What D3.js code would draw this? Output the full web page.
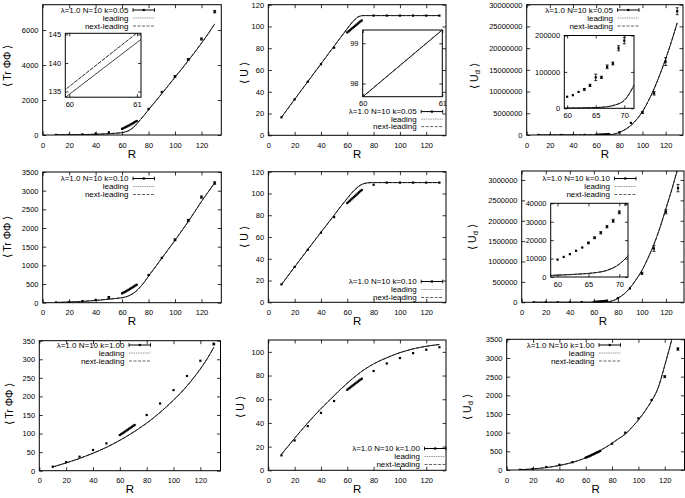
<!DOCTYPE html>
<html><head><meta charset="utf-8">
<script src="https://cdn.jsdelivr.net/npm/d3@7"></script>
<style>body{margin:0;background:#fff}svg{display:block}</style>
</head><body><svg id="c" width="685" height="498"></svg>
<script>
// ---------- data ----------
const R_main = [10,20,30,40,50,80,90,100,110,120,130];
const R_dense = [60,61,62,63,64,65,66,67,68,69,70,71];
const R_curve = [10,20,30,40,50,55,60,62,64,66,68,70,72,74,76,78,80,85,90,95,100,105,110,115,120,125,130];
const xTicks = [0,20,40,60,80,100,120];
const kValues = ["0.05","0.10","1.00"];

// k = 0.05
const tr005 = [5,12,35,80,150,1490,2460,3350,4320,5490,7050];
const tr005Err = [3,4,8,30,30,40,40,50,50,60,70];
const tr005Dense = [350,388,425,462,500,540,580,622,665,710,755,800];
const tr005DenseErr = [10,10,10,10,12,12,12,14,14,15,15,16];
const tr005Lead = [3,10,22,42,75,100,135,165,210,290,400,540,710,890,1070,1255,1440,1900,2360,2830,3300,3770,4250,4740,5250,5780,6350];
const tr005Next = [3,10,22,43,76,101,136,166,211,291,401,541,711,891,1071,1256,1441,1901,2361,2831,3301,3771,4251,4741,5251,5781,6351];
const u005 = [16.5,33,49.2,65.3,80.5,110,110,110,110,110,110];
const u005Err = [0.2,0.2,0.2,0.3,0.3,0.3,0.2,0.2,0.2,0.2,0.2];
const u005Dense = [94.5,95.5,96.5,97.5,98.6,99.6,100.6,101.6,102.6,103.6,104.6,105.5];
const u005DenseErr = [0.3,0.3,0.3,0.3,0.3,0.3,0.3,0.3,0.3,0.3,0.3,0.3];
const u005Lead = [16.5,33,49.3,65.6,81.9,90,98,101.2,104.2,106.7,108.6,109.6,110,110,110,110,110,110,110,110,110,110,110,110,110,110,110];
const u005Next = [16.5,33,49.3,65.6,81.9,90,98,101.2,104.2,106.7,108.6,109.6,110,110,110,110,110,110,110,110,110,110,110,110,110,110,110];
const ud005 = [2,30,300,2500,12000,600000,2800000,5200000,9600000,16900000,28500000];
const ud005Err = [0,0,0,0,0,80000,120000,250000,400000,900000,800000];
const ud005Dense = [31800,36000,45000,52000,63000,85000,85000,114000,123000,165000,186000,225000];
const ud005DenseErr = [2000,2000,2000,2500,3000,9000,3000,5000,4000,7000,9000,10000];
const ud005Lead = [0,0,0,0,0,200,500,900,1600,2800,7500,22000,72000,140000,250000,400000,600000,1250000,2200000,3600000,5400000,7800000,10600000,13900000,17500000,21500000,25800000];
const ud005Next = [0,0,0,0,0,200,500,900,1600,2800,7500,22000,72000,140000,250000,400000,600000,1250000,2200000,3600000,5400000,7800000,10600000,13900000,17500000,21500000,25800000];

// k = 0.10
const tr010 = [8,18,42,75,140,743,1200,1683,2202,2829,3205];
const tr010Err = [3,5,8,20,25,20,20,25,30,30,35];
const tr010Dense = [250,268,287,306,326,347,369,391,413,435,458,480];
const tr010DenseErr = [8,8,8,8,8,8,8,8,8,8,8,8];
const tr010Lead = [7,18,35,60,95,112,134,148,168,200,240,290,355,430,515,610,710,950,1190,1430,1670,1920,2170,2440,2710,2960,3210];
const tr010Next = [7,18,35,60,95,113,135,149,169,201,241,291,356,431,516,611,711,951,1191,1431,1671,1921,2171,2441,2711,2961,3211];
const u010 = [16.5,32.5,48.3,64,78.3,108,110,110,110,110,110];
const u010Err = [0.2,0.2,0.2,0.3,0.3,0.3,0.2,0.2,0.2,0.2,0.2];
const u010Dense = [91.2,92.3,93.4,94.5,95.6,96.7,97.8,98.9,100,101.1,102.2,103.2];
const u010DenseErr = [0.3,0.3,0.3,0.3,0.3,0.3,0.3,0.3,0.3,0.3,0.3,0.3];
const u010Lead = [16.3,32.5,48.5,64.3,80,88,95.5,98.5,101.3,103.8,105.9,107.6,108.8,109.5,109.8,110,110,110,110,110,110,110,110,110,110,110,110];
const u010Next = [16.3,32.5,48.5,64.3,80,88,95.5,98.5,101.3,103.8,105.9,107.6,108.8,109.5,109.8,110,110,110,110,110,110,110,110,110,110,110,110];
const ud010 = [1,15,150,1200,6000,100000,340000,710000,1320000,2220000,2800000];
const ud010Err = [0,0,0,0,0,8000,15000,25000,70000,50000,90000];
const ud010Dense = [9450,10900,12400,14200,16000,18500,21300,24000,27300,30500,35100,40000];
const ud010DenseErr = [300,300,300,400,400,500,500,600,600,800,800,1000];
const ud010Lead = [0,0,0,0,150,400,1000,1300,1700,2300,3600,7000,14000,25000,42000,66000,100000,200000,350000,550000,780000,1080000,1420000,1830000,2300000,2780000,3300000];
const ud010Next = [0,0,0,0,150,400,1000,1300,1700,2300,3600,7000,14000,25000,42000,66000,100000,200000,350000,550000,780000,1080000,1420000,1830000,2300000,2780000,3300000];

// k = 1.00
const tr100 = [10.8,23,37.7,55.7,73.6,150,181,217,255,296,341];
const tr100Err = [0.5,0.5,0.8,1,1,1.5,1.5,2,2,2,2.5];
const tr100Dense = [96,98.4,100.8,103.2,105.7,108.2,110.7,113.2,115.7,118.2,120.6,123];
const tr100DenseErr = [1,1,1,1,1,1,1,1,1,1,1,1];
const tr100Lead = [10,21,33,47,63,72,82,86,90,94.5,99,103.5,108,113,118,123,128,142,157,173,190,208,228,250,274,301,332];
const tr100Next = [10,21,33,47,63,72,82,86,90,94.5,99,103.5,108,113,118,123,128,142,157,173,190,208,228,250,274,301,332];
const u100 = [12.6,25.2,37.3,48.5,58.5,83.8,90.2,94.8,98.9,101.8,103.9];
const u100Err = [0.2,0.2,0.3,0.3,0.3,0.3,0.3,0.3,0.3,0.3,0.3];
const u100Dense = [68,68.9,69.7,70.6,71.5,72.3,73.2,74,74.9,75.7,76.5,77.3];
const u100DenseErr = [0.3,0.3,0.3,0.3,0.3,0.3,0.3,0.3,0.3,0.3,0.3,0.3];
const u100Lead = [13.5,27,40,52,63,68.5,73.5,75.5,77.4,79.2,81,82.7,84.3,85.8,87.2,88.6,89.8,92.6,95,97.3,99.3,101,102.5,103.7,104.7,105.5,106.2];
const u100Next = [13.5,27,40,52,63,68.5,73.5,75.5,77.4,79.2,81,82.7,84.3,85.8,87.2,88.6,89.8,92.6,95,97.3,99.3,101,102.5,103.7,104.7,105.5,106.2];
const ud100 = [5,30,80,140,210,705,1000,1384,1875,2500,3240];
const ud100Err = [1,2,3,5,6,10,12,15,20,25,30];
const ud100Dense = [330,345,360,375,392,408,425,442,459,476,493,510];
const ud100DenseErr = [5,5,5,5,5,5,5,5,5,5,5,5];
const ud100Lead = [5,30,65,122,205,260,330,365,400,435,470,505,545,585,625,670,715,840,960,1140,1340,1580,1850,2200,2800,3450,4200];
const ud100Next = [5,30,65,122,205,260,330,365,400,435,470,505,545,585,625,670,715,840,960,1140,1340,1580,1850,2200,2800,3450,4200];

// inset lines (k = 0.05, Tr and U)
const insetR = [59.9, 61.1];
const insTrLead = [133.6, 144.5];
const insTrNext = [134.95, 146.2];
const insULead = [97.5, 99.5];
const insUNext = [97.5, 99.5];

// tick labels
const ytTr005 = [0,2000,4000,6000];
const ytU = [0,20,40,60,80,100,120];
const ytUd005 = [0,5000000,10000000,15000000,20000000,25000000,30000000];
const ytTr010 = [0,500,1000,1500,2000,2500,3000,3500];
const ytUd010 = [0,500000,1000000,1500000,2000000,2500000,3000000];
const ytTr100 = [0,50,100,150,200,250,300,350];
const ytU100 = [0,20,40,60,80,100];
const ytUd100 = [0,500,1000,1500,2000,2500,3000,3500];
const insTrXt = [60,61], insTrYt = [135,140,145];
const insUXt = [60,61], insUYt = [98,99];
const insUdXt = [60,65,70], insUd005Yt = [0,100000,200000];
const insUd010Yt = [0,10000,20000,30000,40000];

// ---------- layout ----------
const FONT = '"Liberation Sans", Arial, Helvetica, sans-serif';
const panels = [
 {b:{l:42.7,r:221.3,t:4.7,b:135}, yMax:7450, yt:ytTr005, lab:'tr', k:0, d:tr005, e:tr005Err, dd:tr005Dense, de:tr005DenseErr, lead:tr005Lead, next:tr005Next, ylx:7, yly:66, lg:{x:128.5,y:10},
  inset:{b:{l:65.3,r:141,t:33.3,b:97.2}, xd:[59.94,61.06], yd:[134,145.2], xt:insTrXt, yt:insTrYt, lines:[insetR, insTrLead, insTrNext]}},
 {b:{l:268.3,r:446,t:4.7,b:135.3}, yMax:120, yt:ytU, lab:'u', k:0, d:u005, e:u005Err, dd:u005Dense, de:u005DenseErr, lead:u005Lead, next:u005Next, ylx:244, yly:73, lg:{x:416.7,y:111.6,dy:7.5},
  inset:{b:{l:362.7,r:442.3,t:30,b:96.7}, xd:[60,61], yd:[97.67,99.33], xt:insUXt, yt:insUYt, lines:[insetR, insULead, insUNext], xpad:3.6}},
 {b:{l:526.7,r:683,t:4.7,b:135}, yMax:30000000, yt:ytUd005, lab:'ud', k:0, d:ud005, e:ud005Err, dd:ud005Dense, de:ud005DenseErr, lead:ud005Lead, next:ud005Next, ylx:474, yly:76, lg:{x:613,y:10},
  inset:{b:{l:564.3,r:634,t:35.5,b:108.3}, xd:[59.5,71.7], yd:[0,200000], xt:insUdXt, yt:insUd005Yt, pts:true}},
 {b:{l:42.7,r:221.3,t:172,b:302.7}, yMax:3500, yt:ytTr010, lab:'tr', k:1, d:tr010, e:tr010Err, dd:tr010Dense, de:tr010DenseErr, lead:tr010Lead, next:tr010Next, ylx:7, yly:237, lg:{x:128.5,y:178.5}},
 {b:{l:268.3,r:446,t:171.7,b:302.3}, yMax:120, yt:ytU, lab:'u', k:1, d:u010, e:u010Err, dd:u010Dense, de:u010DenseErr, lead:u010Lead, next:u010Next, ylx:244, yly:237, lg:{x:416.7,y:281.5}},
 {b:{l:521.7,r:684,t:171,b:302.3}, yMax:3220000, yt:ytUd010, lab:'ud', k:1, d:ud010, e:ud010Err, dd:ud010Dense, de:ud010DenseErr, lead:ud010Lead, next:ud010Next, ylx:472, yly:237, lg:{x:610,y:178.5},
  inset:{b:{l:550.7,r:628,t:203.3,b:277}, xd:[58.9,71.4], yd:[0,40000], xt:insUdXt, yt:insUd010Yt, pts:true}},
 {b:{l:39.3,r:220.5,t:340.7,b:470.7}, yMax:350, yt:ytTr100, lab:'tr', k:2, d:tr100, e:tr100Err, dd:tr100Dense, de:tr100DenseErr, lead:tr100Lead, next:tr100Next, ylx:9, yly:404, lg:{x:124.5,y:345}},
 {b:{l:268.3,r:446,t:340,b:470.3}, yMax:110, yt:ytU100, lab:'u', k:2, d:u100, e:u100Err, dd:u100Dense, de:u100DenseErr, lead:u100Lead, next:u100Next, ylx:240, yly:407, lg:{x:420,y:448.5}},
 {b:{l:506.7,r:684.5,t:339.3,b:470}, yMax:3500, yt:ytUd100, lab:'ud', k:2, d:ud100, e:ud100Err, dd:ud100Dense, de:ud100DenseErr, lead:ud100Lead, next:ud100Next, ylx:467, yly:407, lg:{x:594.5,y:345}}
];

const svg = d3.select('#c');
svg.append('rect').attr('width',685).attr('height',498).attr('fill','#fff');
const defs = svg.append('defs');
let clipN = 0;
function clip(b){ const id='cl'+(clipN++); defs.append('clipPath').attr('id',id).append('rect').attr('x',b.l).attr('y',b.t).attr('width',b.r-b.l).attr('height',b.b-b.t); return `url(#${id})`; }

function axes(g, x, y, b, xt, yt, tick, xpad){
  const ax = (gen, tr) => { const a = g.append('g').attr('transform', tr).call(gen);
    a.select('.domain').remove(); a.attr('font-size',7.5).attr('font-family',FONT);
    a.selectAll('line').attr('stroke','#000').attr('stroke-width',0.8); a.selectAll('text').attr('fill','#000'); return a; };
  ax(d3.axisBottom(x).tickValues(xt).tickSize(-tick).tickPadding(xpad).tickFormat(d3.format('d')), `translate(0,${b.b})`);
  ax(d3.axisTop(x).tickValues(xt).tickSize(-tick).tickFormat(''), `translate(0,${b.t})`);
  ax(d3.axisLeft(y).tickValues(yt).tickSize(-tick).tickPadding(4.2).tickFormat(d3.format('d')), `translate(${b.l},0)`);
  ax(d3.axisRight(y).tickValues(yt).tickSize(-tick).tickFormat(''), `translate(${b.r},0)`);
  g.append('rect').attr('x',b.l).attr('y',b.t).attr('width',b.r-b.l).attr('height',b.b-b.t).attr('fill','none').attr('stroke','#000').attr('stroke-width',1);
}
function points(g, x, y, Rs, vals, errs){
  Rs.forEach((r,i)=>{
    const cx = x(r), v = vals[i], e = errs[i];
    if (e > 0) {
      const y1 = y(v-e), y2 = y(v+e);
      g.append('line').attr('x1',cx).attr('x2',cx).attr('y1',y1).attr('y2',y2).attr('stroke','#000').attr('stroke-width',0.8);
      if (Math.abs(y1-y2) > 1.5) {
        g.append('line').attr('x1',cx-1.5).attr('x2',cx+1.5).attr('y1',y1).attr('y2',y1).attr('stroke','#000').attr('stroke-width',0.8);
        g.append('line').attr('x1',cx-1.5).attr('x2',cx+1.5).attr('y1',y2).attr('y2',y2).attr('stroke','#000').attr('stroke-width',0.8);
      }
    }
    g.append('rect').attr('x',cx-1.1).attr('y',y(v)-1.1).attr('width',2.2).attr('height',2.2).attr('fill','#000');
  });
}
function curves(g, x, y, Rs, lead, next){
  const line = d3.line().x((d)=>x(d[0])).y((d)=>y(d[1])).curve(d3.curveMonotoneX);
  g.append('path').attr('d', line(Rs.map((r,i)=>[r,lead[i]]))).attr('fill','none').attr('stroke','#444').attr('stroke-width',1);
  g.append('path').attr('d', line(Rs.map((r,i)=>[r,next[i]]))).attr('fill','none').attr('stroke','#111').attr('stroke-width',0.9).attr('stroke-dasharray','4,1');
}
function ylabel(p){
  const t = svg.append('text').attr('transform',`translate(${p.ylx},${p.yly}) rotate(-90)`).attr('text-anchor','middle')
    .attr('dy','0.35em').attr('font-family',FONT).attr('font-size',10.5).attr('fill','#000');
  if (p.lab === 'tr') t.text('⟨ Tr ΦΦ ⟩');
  else if (p.lab === 'u') t.text('⟨ U ⟩');
  else { t.append('tspan').text('⟨ U'); t.append('tspan').attr('font-size',7.5).attr('dy',2.5).text('d'); t.append('tspan').attr('dy',-2.5).text(' ⟩'); }
}
function legend(p){
  const g = svg.append('g').attr('font-family',FONT).attr('font-size',8);
  const labels = ['λ=1.0 N=10 k=' + kValues[p.k], 'leading', 'next-leading'];
  const sx1 = p.lg.x + 4.5, sx2 = p.lg.x + 26;
  const step = p.lg.dy || 8;
  labels.forEach((s,i)=>{
    const yy = p.lg.y + i*step;
    g.append('text').attr('x',p.lg.x).attr('y',yy).attr('dy','0.35em').attr('text-anchor','end').attr('fill','#000').text(s);
    if (i===0){
      g.append('line').attr('x1',sx1).attr('x2',sx2).attr('y1',yy).attr('y2',yy).attr('stroke','#000').attr('stroke-width',1);
      [sx1,sx2].forEach(xx=>g.append('line').attr('x1',xx).attr('x2',xx).attr('y1',yy-1.8).attr('y2',yy+1.8).attr('stroke','#000').attr('stroke-width',0.9));
      g.append('rect').attr('x',(sx1+sx2)/2-1.1).attr('y',yy-1.1).attr('width',2.2).attr('height',2.2).attr('fill','#000');
    } else if (i===1){
      g.append('line').attr('x1',sx1).attr('x2',sx2).attr('y1',yy).attr('y2',yy).attr('stroke','#999').attr('stroke-width',1).attr('stroke-dasharray','1.5,0.8');
    } else {
      g.append('line').attr('x1',sx1).attr('x2',sx2).attr('y1',yy).attr('y2',yy).attr('stroke','#666').attr('stroke-width',1).attr('stroke-dasharray','3,1.5');
    }
  });
}

panels.forEach(p=>{
  const b = p.b;
  const x = d3.scaleLinear().domain([0,135]).range([b.l,b.r]);
  const y = d3.scaleLinear().domain([0,p.yMax]).range([b.b,b.t]);
  const g = svg.append('g');
  const inner = g.append('g').attr('clip-path', clip(b));
  curves(inner, x, y, R_curve, p.lead, p.next);
  points(inner, x, y, R_main, p.d, p.e);
  points(inner, x, y, R_dense, p.dd, p.de);
  axes(g, x, y, b, xTicks, p.yt, 3.5, 7.2);
  g.append('text').attr('x',(b.l+b.r)/2).attr('y',b.b+22.5).attr('text-anchor','middle').attr('font-family',FONT).attr('font-size',11.5).attr('fill','#000').text('R');
  ylabel(p);
  legend(p);
  if (p.inset){
    const s = p.inset, ib = s.b;
    const ix = d3.scaleLinear().domain(s.xd).range([ib.l,ib.r]);
    const iy = d3.scaleLinear().domain(s.yd).range([ib.b,ib.t]);
    const ig = svg.append('g');
    ig.append('rect').attr('x',ib.l).attr('y',ib.t).attr('width',ib.r-ib.l).attr('height',ib.b-ib.t).attr('fill','#fff');
    const ii = ig.append('g').attr('clip-path', clip(ib));
    if (s.lines) curves(ii, ix, iy, s.lines[0], s.lines[1], s.lines[2]);
    else curves(ii, ix, iy, R_curve, p.lead, p.next);
    if (s.pts) points(ii, ix, iy, R_dense, p.dd, p.de);
    axes(ig, ix, iy, ib, s.xt, s.yt, 3, s.xpad || 4.3);
  }
});
</script></body></html>
